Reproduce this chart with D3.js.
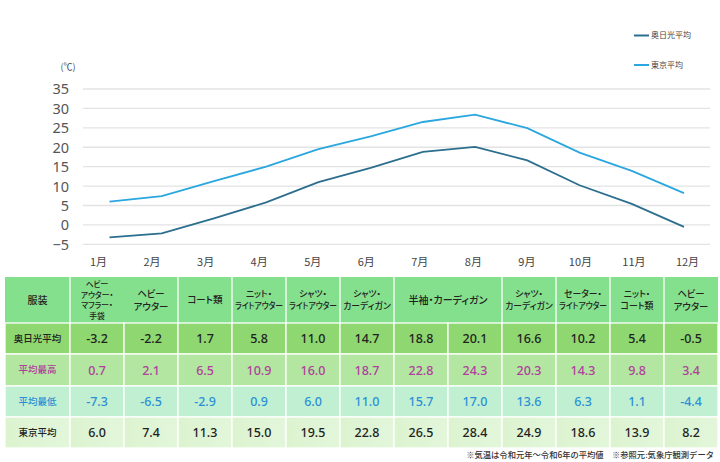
<!DOCTYPE html>
<html><head><meta charset="utf-8">
<script src="https://cdn.jsdelivr.net/npm/d3@7"></script>
<style>
html,body{margin:0;padding:0;background:#fff;}
svg{display:block;font-family:"Noto Sans CJK JP","Noto Sans",sans-serif;}
.palt{font-feature-settings:"palt";}
</style></head>
<body><svg id="c" width="720" height="462"></svg>
<script>
const months = ["1月","2月","3月","4月","5月","6月","7月","8月","9月","10月","11月","12月"];
const nikkoAvg = [-3.2,-2.2,1.7,5.8,11.0,14.7,18.8,20.1,16.6,10.2,5.4,-0.5];
const nikkoMax = [0.7,2.1,6.5,10.9,16.0,18.7,22.8,24.3,20.3,14.3,9.8,3.4];
const nikkoMin = [-7.3,-6.5,-2.9,0.9,6.0,11.0,15.7,17.0,13.6,6.3,1.1,-4.4];
const tokyoAvg = [6.0,7.4,11.3,15.0,19.5,22.8,26.5,28.4,24.9,18.6,13.9,8.2];
const yTicks = [-5,0,5,10,15,20,25,30,35];
const seriesNames = ["奥日光平均","東京平均"];
const rowLabels = ["奥日光平均","平均最高","平均最低","東京平均"];
const headerLabel = "服装";
// clothing header cells: start month index, span, lines
const clothing = [
  {start:0, span:1, lines:["ヘビー","アウター・","マフラー・","手袋"], size:7.8, divider:true},
  {start:1, span:1, lines:["ヘビー","アウター"], size:9.4, divider:false},
  {start:2, span:1, lines:["コート類"], size:9.5, divider:true},
  {start:3, span:1, lines:["ニット・","ライトアウター"], size:8.8, divider:true},
  {start:4, span:1, lines:["シャツ・","ライトアウター"], size:8.8, divider:true},
  {start:5, span:1, lines:["シャツ・","カーディガン"], size:8.8, divider:true},
  {start:6, span:2, lines:["半袖・カーディガン"], size:10, divider:true},
  {start:8, span:1, lines:["シャツ・","カーディガン"], size:8.8, divider:true},
  {start:9, span:1, lines:["セーター・","ライトアウター"], size:8.8, divider:true},
  {start:10, span:1, lines:["ニット・","コート類"], size:8.9, divider:true},
  {start:11, span:1, lines:["ヘビー","アウター"], size:9.4, divider:true}
];
const footnote = "※気温は令和元年～令和6年の平均値　※参照元:気象庁観測データ";

const svg = d3.select("#c");
const darkCol = "#2c6e8e", lightCol = "#2aa7df";

// scales
const y = d3.scaleLinear().domain([-5,35]).range([244.3,89]);
const xLine = d3.scalePoint().domain(months).range([109.5,684]);
const xLabel = d3.scalePoint().domain(months).range([98,687]);
const xCol = d3.scaleBand().domain(months).range([70,718]);

// grid
svg.append("g").selectAll("line").data(yTicks).join("line")
  .attr("x1",83).attr("x2",710).attr("y1",d=>y(d)).attr("y2",d=>y(d))
  .attr("stroke","#e3e3e3").attr("stroke-width",1.3);

// y axis labels
const yAxis = d3.axisLeft(y).tickValues(yTicks).tickSize(0).tickPadding(0);
const gy = svg.append("g").attr("transform","translate(69,0)").call(yAxis);
gy.select(".domain").remove();
gy.selectAll("text").attr("font-size",14.5).attr("fill","#555").attr("font-family","'Noto Sans',sans-serif").attr("dy","0.34em");

svg.append("text").attr("x",68).attr("y",70).attr("text-anchor","middle")
  .attr("font-size",9).attr("fill","#444").text("(℃)");

// x labels
const xAxis = d3.axisBottom(xLabel).tickSize(0).tickPadding(0);
const gx = svg.append("g").attr("transform","translate(0,258)").call(xAxis);
gx.select(".domain").remove();
gx.selectAll("text").attr("font-size",11).attr("fill","#444").attr("font-family","'Noto Sans CJK JP',sans-serif");

// lines
const line = d3.line().x((d,i)=>xLine(months[i])).y(d=>y(d));
svg.append("path").datum(tokyoAvg).attr("d",line).attr("fill","none").attr("stroke",lightCol).attr("stroke-width",1.8);
svg.append("path").datum(nikkoAvg).attr("d",line).attr("fill","none").attr("stroke",darkCol).attr("stroke-width",1.8);

// legend
const leg = svg.append("g");
[[darkCol,35.5],[lightCol,65]].forEach((c,i)=>{
  leg.append("line").attr("x1",634).attr("x2",649).attr("y1",c[1]).attr("y2",c[1]).attr("stroke",c[0]).attr("stroke-width",2);
  leg.append("text").attr("x",651).attr("y",c[1]).attr("dy","0.35em").attr("font-size",8).attr("fill","#444").text(seriesNames[i]);
});

// table
const tableLeft = 5, labelRight = 70, tableRight = 718;
const rowY = [277,323,354,386,417,448];
const defs = svg.append("defs");
const gr = defs.append("linearGradient").attr("id","g5").attr("x1","0").attr("x2","1");
gr.append("stop").attr("offset","0").attr("stop-color","#dcf3cf");
gr.append("stop").attr("offset","1").attr("stop-color","#e3f6db");
const rowFill = ["#8fd770","#b3e6a0","#c1efd1","url(#g5)"];
const rowText = ["#222","#b03f9e","#2b8fd6","#222"];
const rowData = [nikkoAvg,nikkoMax,nikkoMin,tokyoAvg];

const T = svg.append("g");
// header background
T.append("rect").attr("x",tableLeft).attr("y",rowY[0]).attr("width",tableRight-tableLeft).attr("height",rowY[1]-rowY[0]).attr("fill","#85e08d");
// header dividers
const divX = [labelRight].concat(clothing.filter(c=>c.divider && c.start>0).map(c=>xCol(months[c.start])));
T.selectAll("line.hd").data(divX).join("line").attr("class","hd")
  .attr("x1",d=>d).attr("x2",d=>d).attr("y1",rowY[0]).attr("y2",rowY[1]).attr("stroke","#fff").attr("stroke-width",1.3);
// header text
const hc = (rowY[0]+rowY[1])/2;
T.append("text").attr("x",(tableLeft+labelRight)/2).attr("y",hc).attr("dy","0.36em").attr("text-anchor","middle")
  .attr("font-size",10).attr("font-weight",500).attr("fill","#222").text(headerLabel);
clothing.forEach(c=>{
  const cx = xCol(months[c.start]) + xCol.bandwidth()*c.span/2;
  const lh = c.lines.length > 2 ? 10.6 : Math.max(11.9, c.size*1.36);
  const maxW = xCol.bandwidth()*c.span - 6;
  c.lines.forEach((l,i)=>{
    const t = T.append("text").attr("class","palt").attr("text-anchor","middle").attr("font-size",c.size)
      .attr("font-weight",500).attr("fill","#222")
      .attr("x",cx).attr("y",hc + (i-(c.lines.length-1)/2)*lh).attr("dy","0.36em").text(l);
    const w = t.node().getComputedTextLength();
    if (w > maxW) t.attr("textLength",maxW).attr("lengthAdjust","spacingAndGlyphs");
  });
});
// data rows
rowData.forEach((vals,r)=>{
  const y0 = rowY[r+1], y1 = rowY[r+2];
  T.append("rect").attr("x",tableLeft).attr("y",y0).attr("width",labelRight-tableLeft).attr("height",y1-y0)
    .attr("fill",rowFill[r]).attr("stroke","#fff").attr("stroke-width",1.3);
  T.append("text").attr("x",(tableLeft+labelRight)/2).attr("y",(y0+y1)/2).attr("dy","0.36em").attr("text-anchor","middle")
    .attr("font-size",9.5).attr("font-weight",500).attr("fill",rowText[r]).text(rowLabels[r]);
  T.selectAll(null).data(vals).join("rect")
    .attr("x",(d,i)=>xCol(months[i])).attr("y",y0).attr("width",xCol.bandwidth()).attr("height",y1-y0)
    .attr("fill",rowFill[r]).attr("stroke","#fff").attr("stroke-width",1.3);
  T.selectAll(null).data(vals).join("text")
    .attr("x",(d,i)=>xCol(months[i])+xCol.bandwidth()/2).attr("y",(y0+y1)/2).attr("dy","0.36em")
    .attr("text-anchor","middle").attr("font-size",12.5).attr("font-weight",500)
    .attr("font-family","'Noto Sans',sans-serif").attr("fill",rowText[r]).text(d=>d.toFixed(1));
});
// footnote
svg.append("text").attr("x",714).attr("y",458).attr("text-anchor","end").attr("font-size",8.3).attr("font-weight",500).attr("fill","#333").text(footnote);
</script></body></html>
